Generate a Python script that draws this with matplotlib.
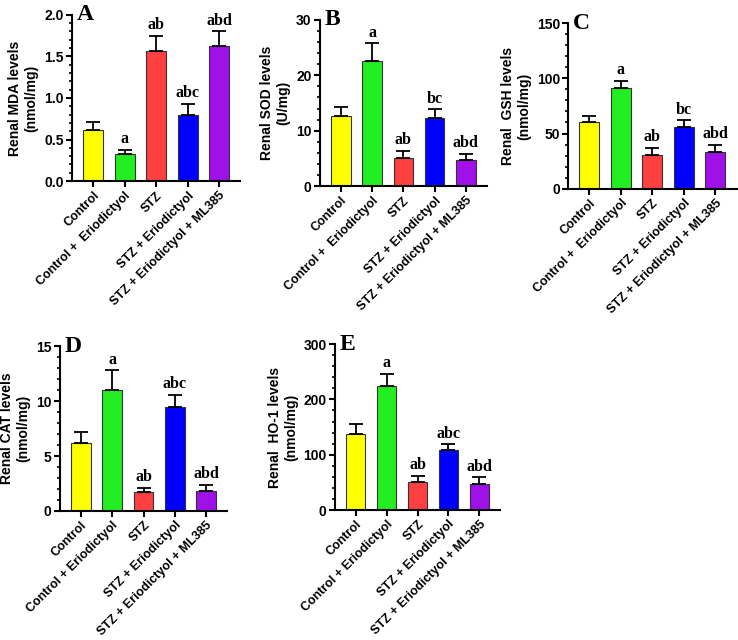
import matplotlib
matplotlib.use("Agg")
import matplotlib.pyplot as plt
from matplotlib.ticker import AutoMinorLocator

# groupes et couleurs
groups = ["Control", "Control +  Eriodictyol", "STZ", "STZ + Eriodictyol",
          "STZ + Eriodictyol + ML385"]
groups_bas = ["Control", "Control + Eriodictyol", "STZ", "STZ + Eriodictyol",
              "STZ + Eriodictyol + ML385"]
colors = ["#FFFF00", "#22EE22", "#FF4040", "#0000FF", "#A010E8"]

# valeurs
mda = [0.61, 0.32, 1.56, 0.80, 1.62]
mda_err = [0.10, 0.06, 0.19, 0.13, 0.18]
sod = [12.7, 22.5, 5.1, 12.3, 4.8]
sod_err = [1.5, 3.3, 1.3, 1.6, 1.1]
gsh = [60, 91, 31, 56, 33]
gsh_err = [6, 7, 6, 6, 7]
cat = [6.2, 11.0, 1.7, 9.5, 1.8]
cat_err = [1.0, 1.8, 0.4, 1.1, 0.6]
ho1 = [138, 225, 51, 109, 47]
ho1_err = [17, 21, 11, 10, 12]

letters_A = ["", "a", "ab", "abc", "abd"]
letters_B = ["", "a", "ab", "bc", "abd"]
letters_C = ["", "a", "ab", "bc", "abd"]
letters_D = ["", "a", "ab", "abc", "abd"]
letters_E = ["", "a", "ab", "abc", "abd"]

panels = [
    ("A", mda, mda_err, letters_A, groups, "Renal MDA levels\n(nmol/mg)", 2.0, [0, 0.5, 1.0, 1.5, 2.0], "{:.1f}",
     [0.0976, 0.717, 0.228, 0.260]),
    ("B", sod, sod_err, letters_B, groups, "Renal SOD levels\n(U/mg)", 30, [0, 10, 20, 30], "{:d}",
     [0.4336, 0.709, 0.226, 0.260]),
    ("C", gsh, gsh_err, letters_C, groups, "Renal  GSH levels\n(nmol/mg)", 150, [0, 50, 100, 150], "{:d}",
     [0.770, 0.705, 0.228, 0.259]),
    ("D", cat, cat_err, letters_D, groups_bas, "Renal CAT levels\n(nmol/mg)", 15, [0, 5, 10, 15], "{:d}",
     [0.0813, 0.2016, 0.2263, 0.2574]),
    ("E", ho1, ho1_err, letters_E, groups_bas, "Renal  HO-1 levels\n(nmol/mg)", 300, [0, 100, 200, 300], "{:d}",
     [0.454, 0.203, 0.2235, 0.2595]),
]

fig = plt.figure(figsize=(7.38, 6.40), dpi=100)
sans = "Liberation Sans"
serif = "Liberation Serif"

for name, vals, errs, lets, labs, ylab, ymax, yt, fmt, pos in panels:
    ax = fig.add_axes(pos)
    x = list(range(len(labs)))
    ax.bar(x, vals, width=0.63, color=colors, edgecolor="#333333", linewidth=0.8, zorder=2)
    ax.errorbar(x, vals, yerr=[[0] * len(errs), errs], fmt="none", ecolor="black",
                elinewidth=1.3, capsize=5, capthick=1.3, zorder=3)
    for xi, v, e, t in zip(x, vals, errs, lets):
        if t:
            ax.text(xi, v + e + ymax * 0.015, t, ha="center", va="bottom",
                    family=serif, fontweight="bold", fontsize=11.5)
    ax.set_xlim(-0.67, 4.67)
    ax.set_ylim(0, ymax)
    ax.set_yticks(yt)
    ax.set_yticklabels([fmt.format(v) for v in yt], family=sans, fontweight="bold", fontsize=10)
    ax.yaxis.set_minor_locator(AutoMinorLocator(5))
    ax.set_xticks(x)
    ax.set_xticklabels(labs, rotation=45, ha="right", rotation_mode="anchor",
                       family=sans, fontweight="bold", fontsize=9)
    ax.set_ylabel(ylab, family=sans, fontweight="bold", fontsize=10, labelpad=4)
    for s in ["top", "right"]:
        ax.spines[s].set_visible(False)
    for s in ["left", "bottom"]:
        ax.spines[s].set_linewidth(1.5)
    ax.tick_params(axis="both", which="major", width=1.5, length=4, pad=2)
    ax.tick_params(axis="y", which="minor", width=1.2, length=2.5)
    ax.text(0.03, 1.0, name, transform=ax.transAxes, ha="left", va="center",
            family=serif, fontweight="bold", fontsize=17)

fig.savefig("out.png", dpi=100)
